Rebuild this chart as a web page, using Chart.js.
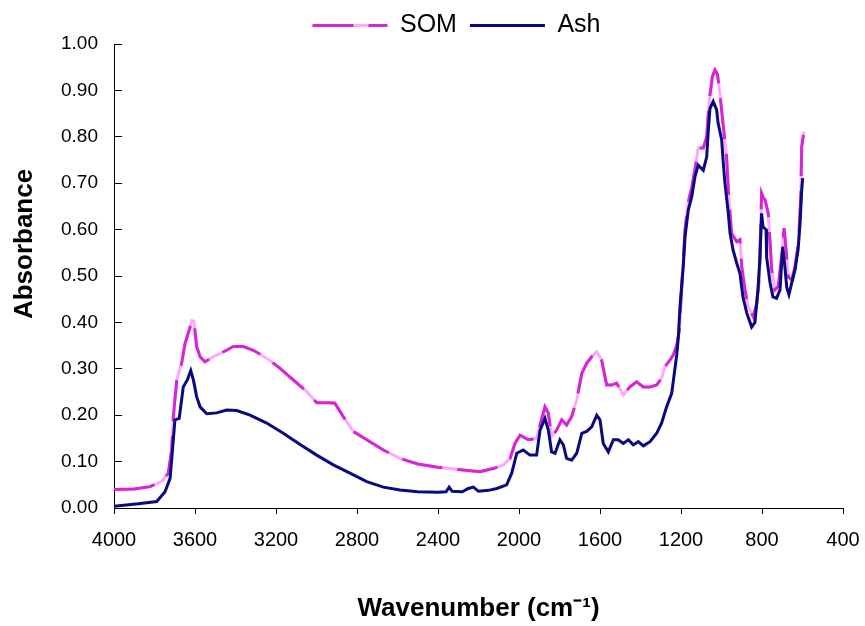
<!DOCTYPE html>
<html>
<head>
<meta charset="utf-8">
<script src="https://cdn.jsdelivr.net/npm/chart.js@4/dist/chart.umd.min.js"></script>
<style>
  html, body { margin: 0; padding: 0; background: #ffffff; }
  canvas { display: block; }
</style>
</head>
<body>
<canvas id="spectra" width="865" height="626"></canvas>
<script>
// FTIR spectra: soil organic matter (SOM) and its ash
const seriesNames = ['SOM', 'Ash'];
const xAxisTitle = 'Wavenumber (cm⁻¹)';
const yAxisTitle = 'Absorbance';

const somWavenumber = [
  4000, 3900, 3822, 3765, 3732, 3715, 3707, 3690, 3666, 3649, 3628, 3616, 3605, 3592, 3575, 3551,
  3510, 3444, 3411, 3361, 3312, 3246, 3180, 3115, 3048, 2999, 2933, 2909, 2868, 2818, 2752, 2670,
  2588, 2500, 2400, 2300, 2193, 2127, 2077, 2044, 2020, 1995, 1954, 1913, 1896, 1872, 1855, 1839,
  1814, 1789, 1765, 1740, 1715, 1690, 1666, 1641, 1616, 1592, 1567, 1542, 1518, 1485, 1452, 1419,
  1386, 1353, 1320, 1296, 1279, 1254, 1238, 1221, 1208, 1200, 1189, 1180, 1164, 1147, 1131, 1115,
  1090, 1073, 1065, 1057, 1045, 1032, 1020, 1008, 991, 975, 966, 958, 950, 925, 909, 900,
  884, 868, 843, 826, 813, 802, 795, 785, 769, 760, 752, 736, 720, 703, 691, 681,
  670, 653, 637, 620, 609, 604, 593
];
const somAbsorbance = [
  0.040, 0.041, 0.046, 0.057, 0.075, 0.125, 0.197, 0.276, 0.312, 0.355, 0.384, 0.404, 0.402, 0.348, 0.326, 0.315,
  0.326, 0.340, 0.348, 0.348, 0.340, 0.323, 0.301, 0.276, 0.251, 0.227, 0.227, 0.226, 0.197, 0.165, 0.147, 0.125,
  0.107, 0.095, 0.088, 0.083, 0.078, 0.085, 0.093, 0.107, 0.139, 0.157, 0.147, 0.150, 0.179, 0.218, 0.204, 0.154,
  0.168, 0.190, 0.179, 0.197, 0.233, 0.290, 0.312, 0.326, 0.337, 0.319, 0.265, 0.265, 0.269, 0.244, 0.261, 0.272,
  0.261, 0.261, 0.265, 0.280, 0.305, 0.319, 0.330, 0.351, 0.384, 0.450, 0.530, 0.600, 0.660, 0.690, 0.730, 0.776,
  0.776, 0.800, 0.850, 0.890, 0.930, 0.944, 0.935, 0.894, 0.822, 0.757, 0.685, 0.635, 0.592, 0.574, 0.578, 0.520,
  0.470, 0.434, 0.412, 0.441, 0.498, 0.678, 0.670, 0.664, 0.635, 0.571, 0.513, 0.470, 0.477, 0.542, 0.603, 0.556,
  0.498, 0.491, 0.520, 0.571, 0.664, 0.779, 0.811
];

const ashWavenumber = [
  4000, 3880, 3789, 3748, 3723, 3710, 3699, 3678, 3658, 3638, 3621, 3608, 3592, 3575, 3542, 3493,
  3444, 3394, 3328, 3246, 3164, 3081, 2999, 2917, 2835, 2752, 2670, 2588, 2500, 2400, 2360, 2345,
  2330, 2280, 2250, 2225, 2200, 2150, 2110, 2061, 2036, 2011, 1979, 1946, 1913, 1896, 1872, 1855,
  1839, 1822, 1798, 1781, 1765, 1740, 1715, 1690, 1666, 1641, 1616, 1600, 1584, 1559, 1534, 1510,
  1485, 1460, 1436, 1411, 1386, 1353, 1320, 1296, 1271, 1246, 1230, 1221, 1213, 1205, 1189, 1180,
  1164, 1147, 1131, 1115, 1090, 1073, 1065, 1057, 1041, 1024, 1017, 999, 991, 983, 968, 958,
  943, 925, 909, 894, 875, 851, 835, 820, 810, 802, 795, 780, 777, 760, 746, 728,
  711, 698, 687, 678, 667, 653, 637, 622, 612, 604, 599
];
const ashAbsorbance = [
  0.004, 0.009, 0.014, 0.035, 0.064, 0.132, 0.190, 0.193, 0.261, 0.276, 0.296, 0.276, 0.240, 0.218, 0.203, 0.205,
  0.211, 0.210, 0.200, 0.183, 0.161, 0.137, 0.114, 0.093, 0.075, 0.057, 0.045, 0.039, 0.035, 0.034, 0.035, 0.045,
  0.036, 0.035, 0.042, 0.045, 0.036, 0.038, 0.042, 0.050, 0.075, 0.118, 0.125, 0.114, 0.114, 0.168, 0.193, 0.168,
  0.121, 0.118, 0.147, 0.136, 0.107, 0.103, 0.118, 0.161, 0.165, 0.175, 0.200, 0.190, 0.139, 0.121, 0.147, 0.147,
  0.139, 0.147, 0.136, 0.143, 0.134, 0.143, 0.161, 0.183, 0.218, 0.247, 0.300, 0.330, 0.369, 0.434, 0.520, 0.585,
  0.642, 0.671, 0.714, 0.739, 0.728, 0.757, 0.815, 0.861, 0.876, 0.858, 0.830, 0.793, 0.743, 0.700, 0.642, 0.593,
  0.556, 0.528, 0.506, 0.455, 0.420, 0.390, 0.400, 0.470, 0.540, 0.635, 0.606, 0.600, 0.540, 0.485, 0.455, 0.452,
  0.470, 0.563, 0.520, 0.476, 0.460, 0.485, 0.513, 0.556, 0.614, 0.685, 0.711
];

// Axis ranges and tick spacing
const xRange = { min: 400, max: 4000, step: 400 };
const yRange = { min: 0, max: 1, step: 0.1 };

const SOM_DARK = '#D624D6';
const SOM_LIGHT = '#FFA8FF';
const ASH_COLOR = '#0A0A80';
const FONT = "'Liberation Sans', Arial, sans-serif";

const toPoints = (xs, ys) => xs.map((x, i) => ({ x: x, y: ys[i] }));

// Legend placement, the light segment inside the SOM legend sample,
// and the vertical axis title (set a little above the middle of the axis)
const chartDecor = {
  id: 'chartDecor',
  afterLayout(chart) {
    const lg = chart.legend;
    lg.left += 24;
    lg.right += 24;
  },
  afterDraw(chart) {
    const ctx = chart.ctx;
    const lg = chart.legend;
    const box = lg.legendHitBoxes && lg.legendHitBoxes[0];
    if (box) {
      const y = box.top + lg.options.labels.font.size / 2;
      ctx.save();
      ctx.strokeStyle = SOM_LIGHT;
      ctx.lineWidth = 3;
      ctx.beginPath();
      ctx.moveTo(box.left + 41, y);
      ctx.lineTo(box.left + 56, y);
      ctx.stroke();
      ctx.restore();
    }
    const area = chart.chartArea;
    ctx.save();
    ctx.translate(24.5, area.top + (area.bottom - area.top) * 0.431);
    ctx.rotate(-Math.PI / 2);
    ctx.font = "bold 26px " + FONT;
    ctx.fillStyle = '#000';
    ctx.textAlign = 'center';
    ctx.textBaseline = 'middle';
    ctx.fillText(yAxisTitle, 0, 0);
    ctx.restore();
  }
};

new Chart(document.getElementById('spectra'), {
  type: 'line',
  data: {
    datasets: [
      {
        label: seriesNames[0],
        data: toPoints(somWavenumber, somAbsorbance),
        borderColor: SOM_DARK,
        borderWidth: 3,
        borderDash: [41, 15],
        pointRadius: 0,
        tension: 0,
        order: 1
      },
      {
        label: seriesNames[1],
        data: toPoints(ashWavenumber, ashAbsorbance),
        borderColor: ASH_COLOR,
        borderWidth: 3,
        pointRadius: 0,
        tension: 0,
        order: 0
      },
      {
        label: 'SOM base',
        data: toPoints(somWavenumber, somAbsorbance),
        borderColor: SOM_LIGHT,
        borderWidth: 3,
        pointRadius: 0,
        tension: 0,
        order: 2
      }
    ]
  },
  options: {
    responsive: false,
    animation: false,
    devicePixelRatio: 1,
    layout: { padding: 0 },
    plugins: {
      tooltip: { enabled: false },
      legend: {
        position: 'top',
        maxHeight: 44,
        labels: {
          usePointStyle: true,
          pointStyle: 'line',
          pointStyleWidth: 75,
          padding: 13,
          color: '#000',
          font: { family: FONT, size: 25 },
          filter: item => item.datasetIndex !== 2,
          sort: (a, b) => a.datasetIndex - b.datasetIndex
        }
      }
    },
    scales: {
      x: {
        type: 'linear',
        reverse: true,
        min: xRange.min,
        max: xRange.max,
        afterFit: s => { s.height = 118; s.paddingLeft = 0; s.paddingRight = 22; },
        border: { display: true, color: '#000', width: 1 },
        grid: { drawOnChartArea: false, drawTicks: true, tickLength: 6, color: '#000' },
        ticks: {
          stepSize: xRange.step,
          color: '#000',
          padding: 14,
          maxRotation: 0,
          font: { family: FONT, size: 20 },
          callback: v => String(v)
        },
        title: {
          display: true,
          text: xAxisTitle,
          color: '#000',
          font: { family: FONT, size: 26, weight: 'bold' },
          padding: { top: 0, bottom: 2 }
        }
      },
      y: {
        min: yRange.min,
        max: yRange.max,
        afterFit: s => { s.width = 114; },
        border: { display: true, color: '#000', width: 1 },
        grid: { drawOnChartArea: false, drawTicks: true, tickLength: -8, color: '#000' },
        ticks: {
          stepSize: yRange.step,
          color: '#000',
          padding: 24,
          font: { family: FONT, size: 19 },
          callback: v => v.toFixed(2)
        },
        title: { display: false, text: yAxisTitle }
      }
    }
  },
  plugins: [chartDecor]
});
</script>
</body>
</html>
